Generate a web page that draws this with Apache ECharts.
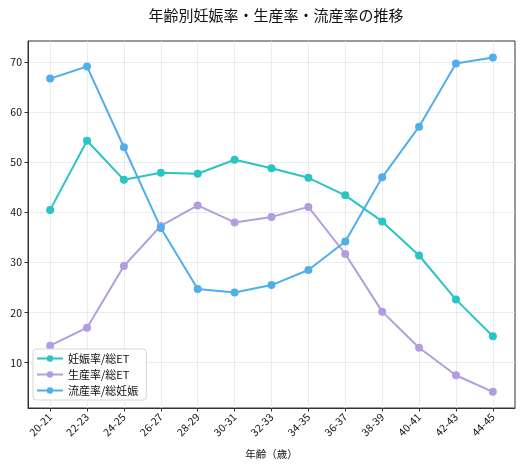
<!DOCTYPE html>
<html>
<head>
<meta charset="utf-8">
<script src="https://cdn.jsdelivr.net/npm/echarts@6/dist/echarts.min.js"></script>
<style>
html,body{margin:0;padding:0;background:#fff;}
#chart{width:528px;height:467px;}
</style>
</head>
<body>
<div id="chart"></div>
<script>
// 年齢区分
var ageLabels=['20-21','22-23','24-25','26-27','28-29','30-31','32-33','34-35','36-37','38-39','40-41','42-43','44-45'];
// 妊娠率/総ET
var pregRate=[40.5,54.3,46.5,47.9,47.7,50.5,48.8,46.9,43.4,38.2,31.4,22.6,15.3];
// 生産率/総ET
var birthRate=[13.4,17.0,29.3,37.3,41.4,38.0,39.1,41.1,31.7,20.2,13.0,7.5,4.2];
// 流産率/総妊娠
var missRate=[66.7,69.1,53.0,36.9,24.7,24.0,25.5,28.5,34.2,47.0,57.1,69.7,70.9];
var yTicks=[10,20,30,40,50,60,70];
var seriesNames=['妊娠率/総ET','生産率/総ET','流産率/総妊娠'];
var colors=['#29c4c4','#b39ddf','#50aeeb'];

var font='"Noto Sans CJK JP", "Noto Sans", sans-serif';
var chart=echarts.init(document.getElementById('chart'));

function toPairs(arr){
	var out=[];
	for(var i=0;i<arr.length;i++){out.push([i,arr[i]]);}
	return out;
}
var xIdx=[];
for(var i=0;i<ageLabels.length;i++){xIdx.push(i);}

function makeSeries(name,arr,color){
	return {
		name:name,
		type:'line',
		data:toPairs(arr),
		symbol:'circle',
		symbolSize:8,
		showSymbol:true,
		lineStyle:{width:2,color:color},
		itemStyle:{color:color},
		emphasis:{disabled:true},
		animation:false,
		z:3
	};
}

var option={
	animation:false,
	textStyle:{fontFamily:font},
	title:{
		text:'年齢別妊娠率・生産率・流産率の推移',
		left:271,
		textAlign:'center',
		top:3,
		textStyle:{fontFamily:font,fontSize:15,fontWeight:'normal',color:'#111'}
	},
	grid:{
		left:28,top:41,right:13,bottom:59,
		show:true,borderColor:'#333',borderWidth:1,backgroundColor:'transparent'
	},
	legend:{
		left:33,top:349,
		orient:'vertical',
		itemWidth:26,itemHeight:8,itemGap:5,
		padding:[4,8,4,3],
		backgroundColor:'rgba(255,255,255,0.85)',
		borderColor:'#d6d6d6',borderWidth:1,borderRadius:3,
		textStyle:{fontFamily:font,fontSize:11,color:'#111'},
		data:seriesNames
	},
	xAxis:{
		type:'value',
		min:-0.6,max:12.6,
		name:'年齢（歳）',
		nameLocation:'middle',
		nameGap:41,
		nameTextStyle:{fontFamily:font,fontSize:10.5,color:'#111'},
		axisLine:{show:true,onZero:false,lineStyle:{color:'#333',width:1}},
		axisTick:{show:true,inside:false,length:3.5,customValues:xIdx,lineStyle:{color:'#333'}},
		axisLabel:{
			customValues:xIdx,
			rotate:45,
			margin:7,
			fontFamily:font,fontSize:10.5,color:'#111',
			formatter:function(v){return ageLabels[Math.round(v)]||'';}
		},
		splitLine:{show:true,lineStyle:{color:'#e6e6e6',width:0.8}}
	},
	yAxis:{
		type:'value',
		min:0.97,max:74.2,
		axisLine:{show:true,onZero:false,lineStyle:{color:'#333',width:1}},
		axisTick:{show:true,inside:false,length:3.5,customValues:yTicks,lineStyle:{color:'#333'}},
		axisLabel:{customValues:yTicks,margin:6,fontFamily:font,fontSize:10.5,color:'#111'},
		splitLine:{show:true,lineStyle:{color:'#e6e6e6',width:0.8}}
	},
	series:[
		makeSeries(seriesNames[0],pregRate,colors[0]),
		makeSeries(seriesNames[1],birthRate,colors[1]),
		makeSeries(seriesNames[2],missRate,colors[2])
	]
};
chart.setOption(option);
</script>
</body>
</html>
